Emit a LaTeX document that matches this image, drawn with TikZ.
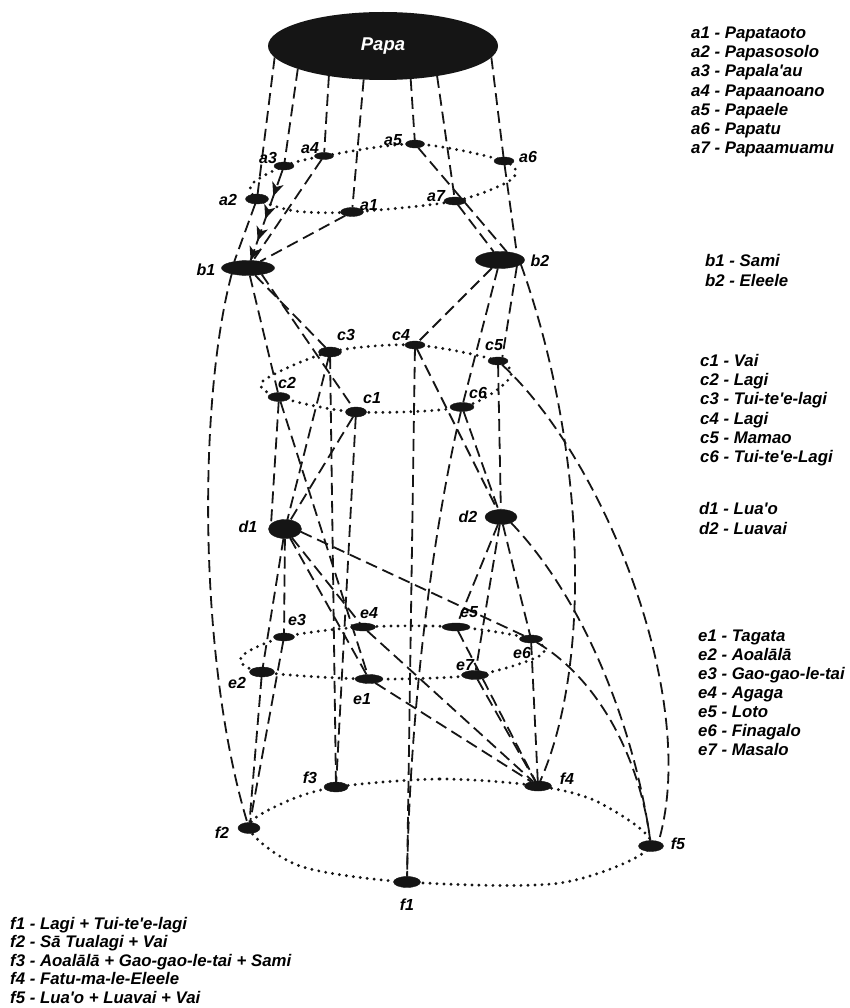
\documentclass[tikz,border=0pt]{standalone}
\usepackage{fontspec}
\setmainfont{Liberation Sans}
\usetikzlibrary{shapes.geometric,arrows.meta,decorations.markings,backgrounds}
\definecolor{ink}{HTML}{151515}
\tikzset{
  x=1pt, y=-1pt,
  blob/.style 2 args={ellipse, fill=ink, draw=ink, line width=0.4pt, minimum width=#1pt, minimum height=#2pt, inner sep=0pt, outer sep=0pt},
  lab/.style={font=\fontsize{16}{16}\selectfont\bfseries\itshape, inner sep=0pt},
  leg/.style={font=\fontsize{16.8}{19}\selectfont\bfseries\itshape, inner sep=0pt, anchor=base west},
  dsh/.style={draw=ink, line width=1.8pt, dash pattern=on 12pt off 6pt},
  dotring/.style={draw=ink, line width=3.2pt, line cap=round, dash pattern=on 0pt off 7pt},
  tipshape/.style={fill=ink, draw=none, solid},
  arrline/.style={draw=ink, line width=1.8pt, dash pattern=on 16pt off 5pt, postaction={decorate},
    decoration={markings,
      mark=at position 0.27 with {\fill[tipshape] (2,0) -- (-12,6) -- (-8,0) -- (-12,-6) -- cycle;},
      mark=at position 0.52 with {\fill[tipshape] (2,0) -- (-12,6) -- (-8,0) -- (-12,-6) -- cycle;},
      mark=at position 0.76 with {\fill[tipshape] (2,0) -- (-12,6) -- (-8,0) -- (-12,-6) -- cycle;},
      mark=at position 0.98 with {\fill[tipshape] (2,0) -- (-12,6) -- (-8,0) -- (-12,-6) -- cycle;}}}
}
\begin{document}
\begin{tikzpicture}
\useasboundingbox (0,0) rectangle (850,1008);

% Papa
\node[ellipse, fill=ink, minimum width=230pt, minimum height=68pt, inner sep=0pt, outer sep=0pt,
      text=white, font=\fontsize{18.5}{18.5}\selectfont\bfseries\itshape] (Papa) at (383,46) {Papa};

% a level
\node[blob={23}{9}] (a1) at (352,212) {};
\node[blob={23}{10}] (a2) at (257,199) {};
\node[blob={20}{8}] (a3) at (284,166) {};
\node[blob={19}{7}] (a4) at (324,156) {};
\node[blob={19}{8}] (a5) at (415,144) {};
\node[blob={20}{8}] (a6) at (504,161) {};
\node[blob={22}{8}] (a7) at (455,201) {};
% b level
\node[blob={53}{15}] (b1) at (248,268) {};
\node[blob={49}{17}] (b2) at (500,260) {};
% c level
\node[blob={21}{10}] (c1) at (356,412) {};
\node[blob={22}{9}] (c2) at (279,397) {};
\node[blob={23}{10}] (c3) at (330,352) {};
\node[blob={20}{8}] (c4) at (415,345) {};
\node[blob={20}{8}] (c5) at (498,361) {};
\node[blob={24}{9}] (c6) at (462,407) {};
% d level
\node[blob={33}{19}] (d1) at (285,529) {};
\node[blob={32}{15}] (d2) at (501,517) {};
% e level
\node[blob={28}{9}] (e1) at (369,679) {};
\node[blob={25}{10}] (e2) at (262,672) {};
\node[blob={21}{8}] (e3) at (284,637) {};
\node[blob={25}{8}] (e4) at (363,627) {};
\node[blob={28}{8}] (e5) at (456,627) {};
\node[blob={23}{8}] (e6) at (531,639) {};
\node[blob={27}{9}] (e7) at (475,675) {};
% f level
\node[blob={27}{11}] (f1) at (407,882) {};
\node[blob={22}{11}] (f2) at (249,828) {};
\node[blob={24}{10}] (f3) at (336,787) {};
\node[blob={27}{10}] (f4) at (538,786) {};
\node[blob={25}{11}] (f5) at (651,846) {};

% node labels
\node[lab] (la1) at (369,205) {a1};
\node[lab] (la2) at (228,200) {a2};
\node[lab] (la3) at (268,158) {a3};
\node[lab] (la4) at (310,148) {a4};
\node[lab] (la5) at (393,140) {a5};
\node[lab] (la6) at (528,157) {a6};
\node[lab] (la7) at (436,196) {a7};
\node[lab] (lb1) at (206,270) {b1};
\node[lab] (lb2) at (540,261) {b2};
\node[lab] (lc1) at (372,398) {c1};
\node[lab] (lc2) at (287,383) {c2};
\node[lab] (lc3) at (346,335) {c3};
\node[lab] (lc4) at (401,335) {c4};
\node[lab] (lc5) at (494,345) {c5};
\node[lab] (lc6) at (478,393) {c6};
\node[lab] (ld1) at (248,527) {d1};
\node[lab] (ld2) at (468,517) {d2};
\node[lab] (le1) at (362,699) {e1};
\node[lab] (le2) at (237,683) {e2};
\node[lab] (le3) at (297,620) {e3};
\node[lab] (le4) at (369,613) {e4};
\node[lab] (le5) at (469,612) {e5};
\node[lab] (le6) at (522,653) {e6};
\node[lab] (le7) at (465,665) {e7};
\node[lab] (lf1) at (407,905) {f1};
\node[lab] (lf2) at (222,833) {f2};
\node[lab] (lf3) at (310,778) {f3};
\node[lab] (lf4) at (567,779) {f4};
\node[lab] (lf5) at (678,844) {f5};

% legends
\foreach \t [count=\i from 0] in {a1 - Papataoto, a2 - Papasosolo, a3 - Papala\textquotesingle au, a4 - Papaanoano, a5 - Papaele, a6 - Papatu, a7 - Papaamuamu}
  \node[leg] (ga\i) at (691,38.5+19.25*\i) {\t};
\foreach \t [count=\i from 0] in {b1 - Sami, b2 - Eleele}
  \node[leg] (gb\i) at (705,266+20*\i) {\t};
\foreach \t [count=\i from 0] in {c1 - Vai, c2 - Lagi, c3 - Tui-te\textquotesingle e-lagi, c4 - Lagi, c5 - Mamao, c6 - Tui-te\textquotesingle e-Lagi}
  \node[leg] (gc\i) at (700,366.5+19.2*\i) {\t};
\foreach \t [count=\i from 0] in {d1 - Lua\textquotesingle o, d2 - Luavai}
  \node[leg] (gd\i) at (699,514+20*\i) {\t};
\foreach \t [count=\i from 0] in {e1 - Tagata, e2 - Aoalālā, e3 - Gao-gao-le-tai, e4 - Agaga, e5 - Loto, e6 - Finagalo, e7 - Masalo}
  \node[leg] (ge\i) at (698,641.5+19.05*\i) {\t};
\foreach \t [count=\i from 0] in {f1 - Lagi + Tui-te\textquotesingle e-lagi, f2 - Sā Tualagi + Vai, f3 - Aoalālā + Gao-gao-le-tai + Sami, f4 - Fatu-ma-le-Eleele, f5 - Lua\textquotesingle o + Luavai + Vai}
  \node[leg] (gf\i) at (10,929+18.5*\i) {\t};

\begin{pgfonlayer}{background}
\fill[white] (0,0) rectangle (850,1008);
% dotted rings
\draw[dotring] plot[smooth cycle] coordinates {(a4.center) (a5.center) (a6.center) (512,179) (a7.center) (a1.center) (295,211) (a2.center) (252,184) (a3.center)};
\draw[dotring] plot[smooth cycle] coordinates {(c3.center) (c4.center) (c5.center) (509,379) (c6.center) (c1.center) (c2.center) (263,381)};
\draw[dotring] plot[smooth cycle] coordinates {(e3.center) (e4.center) (e5.center) (e6.center) (541,655) (e7.center) (e1.center) (e2.center) (241,657)};
\draw[dotring] plot[smooth cycle] coordinates {(f3.center) (440,779) (f4.center) (600,803) (f5.center) (560,883) (f1.center) (300,866) (f2.center) (283,803)};

% Papa to a level
\draw[dsh] (Papa.-174) -- (a2);
\draw[dsh] (Papa.-165) -- (a3);
\draw[dsh] (Papa.-151) -- (a4);
\draw[dsh] (Papa.-120) -- (a1);
\draw[dsh] (Papa.-50) -- (a5);
\draw[dsh] (Papa.-29) -- (a7);
\draw[dsh] (Papa.-6) -- (a6);
% a to b
\draw[dsh] (a2) -- (b1.155);
\draw[arrline] (a3) -- (b1);
\draw[dsh] (a4) -- (b1);
\draw[dsh] (a1) -- (b1);
\draw[dsh] (a5) -- (b2.50);
\draw[dsh] (a7) -- (b2);
\draw[dsh] (a6) -- (b2.20);
% b1 down
\draw[dsh] (b1.-160) .. controls (198,400) and (198,660) .. (f2);
\draw[dsh] (b1) -- (c2);
\draw[dsh] (b1) -- (c3);
\draw[dsh] (b1.-25) -- (c1);
% b2 down
\draw[dsh] (b2) -- (c4);
\draw[dsh] (b2) -- (c6);
\draw[dsh] (b2.-20) -- (c5.40);
\draw[dsh] (b2.-12) .. controls (584,440) and (594,660) .. (f4);
% c level
\draw[dsh] (c3) -- (d1);
\draw[dsh] (c3) -- (f3);
\draw[dsh] (c1) -- (d1);
\draw[dsh] (c1) -- (f3);
\draw[dsh] (c2) -- (d1.160);
\draw[dsh] (c2) -- (e1);
\draw[dsh] (c4) -- (f1);
\draw[dsh] (c4) -- (d2);
\draw[dsh] (c6) -- (d2);
\draw[dsh] (c6) .. controls (435,520) and (410,700) .. (f1);
\draw[dsh] (c5) -- (d2);
\draw[dsh] (c5) .. controls (605,460) and (700,700) .. (f5.30);
% d level
\draw[dsh] (d1) -- (e2);
\draw[dsh] (d1) -- (e3);
\draw[dsh] (d1) -- (e1);
\draw[dsh] (d1) -- (e4);
\draw[dsh] (d1.-10) -- (e6);
\draw[dsh] (d2) -- (e5);
\draw[dsh] (d2) -- (e7);
\draw[dsh] (d2) -- (e6);
\draw[dsh] (d2.-30) .. controls (585,600) and (635,730) .. (f5);
% e level
\draw[dsh] (e2) -- (f2);
\draw[dsh] (e3) -- (f2);
\draw[dsh] (e1) -- (f4);
\draw[dsh] (e4) -- (f4);
\draw[dsh] (e5) -- (f4);
\draw[dsh] (e7) -- (f4);
\draw[dsh] (e6) -- (f4);
\draw[dsh] (e6) .. controls (600,680) and (640,760) .. (f5);
\end{pgfonlayer}
\end{tikzpicture}
\end{document}
